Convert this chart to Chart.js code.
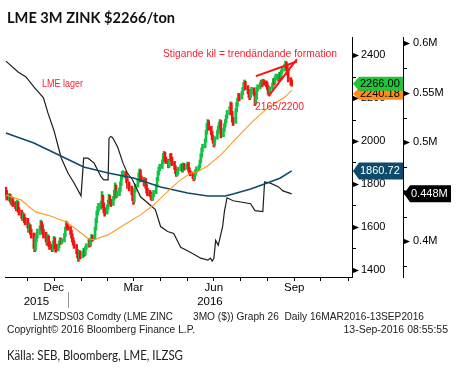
<!DOCTYPE html>
<html>
<head>
<meta charset="utf-8">
<script src="https://cdn.jsdelivr.net/npm/chart.js@4.4.1/dist/chart.umd.min.js"></script>
<style>
html, body { margin: 0; padding: 0; background: #fff; }
</style>
</head>
<body>
<canvas id="chart-zinc" width="457" height="370"></canvas>
<script>
// ----- DATA ----- //
// ---------------- //

// Daily candles, first trading day 22 Oct 2015 (open of first day given separately)
const startDate = '2015-10-22';
const firstOpen = 1775;
const closes = [
  1760,1735,
  1745,1730,1720,1725,1705,
  1700,1690,1712,1680,1665,
  1660,1645,1652,1630,1622,
  1610,1592,1602,1578,1565,
  1520,1498,1545,1560,1575,
  1592,1618,1600,1578,1560,
  1545,1528,1552,1520,1508,
  1498,1526,1548,1512,1494,
  1510,1526,1542,1530,1536,
  1562,1590,1618,1602,1596,
  1575,1560,1540,1528,1512,
  1488,1470,1455,1482,1465,
  1472,1492,1476,1502,1512,
  1532,1518,1542,1556,1548,
  1590,1628,1662,1682,1692,
  1705,1742,1702,1680,1668,
  1692,1716,1740,1720,1706,
  1732,1760,1790,1745,1756,
  1772,1800,1830,1845,1850,
  1840,1818,1790,1802,1780,
  1762,1735,1720,1770,1792,
  1812,1842,1862,1830,1822,
  1800,1820,1790,1770,1760,
  1755,1740,1730,1746,1762,
  1790,1820,1850,1872,1880,
  1902,1930,1942,1915,1910,
  1890,1902,1932,1920,1896,
  1880,1860,1845,1852,1870,
  1880,1886,1868,1890,1875,
  1882,1895,1870,1855,1850,
  1838,1825,1846,1860,1870,
  1880,1905,1930,1960,1975,
  2000,2040,2070,2092,2060,
  2040,2018,2000,1982,2012,
  2040,2060,2078,2092,2030,
  2050,2072,2090,2112,2130,
  2150,2172,2130,2100,2085,
  2140,2170,2190,2212,2200,
  2222,2240,2262,2272,2250,
  2230,2215,2205,2226,2240,
  2222,2178,2200,2240,2250,
  2262,2276,2265,2280,2270,
  2265,2250,2230,2220,2245,
  2262,2280,2275,2295,2300,
  2290,2310,2300,2322,2332,
  2348,2362,2350,2320,2290,
  2275,2266
];
const highs = [
  1785,1770,
  1755,1752,1740,1738,1732,
  1718,1712,1725,1718,1690,
  1678,1668,1665,1660,1645,
  1640,1620,1615,1610,1590,
  1572,1535,1552,1572,1590,
  1605,1632,1625,1610,1590,
  1575,1558,1565,1558,1532,
  1520,1535,1556,1550,1520,
  1520,1535,1550,1548,1545,
  1570,1598,1628,1622,1610,
  1602,1585,1568,1550,1535,
  1518,1495,1480,1490,1488,
  1485,1500,1498,1510,1522,
  1545,1540,1550,1565,1562,
  1600,1640,1675,1695,1710,
  1720,1765,1748,1712,1690,
  1702,1725,1752,1746,1728,
  1742,1772,1805,1795,1768,
  1782,1810,1840,1858,1862,
  1858,1845,1825,1812,1808,
  1790,1768,1742,1780,1800,
  1822,1852,1870,1865,1838,
  1830,1828,1825,1798,1780,
  1770,1762,1748,1755,1770,
  1798,1830,1860,1880,1892,
  1912,1942,1952,1948,1925,
  1915,1910,1940,1942,1925,
  1905,1885,1868,1860,1878,
  1890,1895,1892,1898,1895,
  1892,1902,1900,1875,1862,
  1856,1845,1852,1868,1880,
  1888,1912,1940,1968,1985,
  2010,2050,2082,2100,2095,
  2068,2045,2025,2008,2020,
  2050,2070,2088,2100,2095,
  2060,2080,2100,2120,2142,
  2160,2182,2178,2138,2110,
  2150,2180,2200,2222,2220,
  2232,2250,2272,2284,2278,
  2258,2240,2225,2235,2250,
  2248,2230,2210,2248,2262,
  2272,2284,2282,2288,2285,
  2280,2272,2258,2238,2252,
  2270,2290,2292,2302,2312,
  2310,2320,2318,2330,2342,
  2358,2372,2368,2355,2328,
  2295,2285
];
const lows = [
  1745,1725,
  1722,1715,1705,1700,1695,
  1685,1675,1680,1668,1655,
  1640,1630,1632,1620,1610,
  1595,1575,1580,1565,1548,
  1500,1485,1492,1530,1548,
  1565,1585,1585,1565,1548,
  1530,1515,1520,1508,1495,
  1485,1490,1518,1500,1482,
  1488,1502,1518,1520,1522,
  1530,1555,1582,1592,1585,
  1565,1548,1530,1515,1500,
  1475,1455,1440,1448,1452,
  1456,1462,1465,1470,1495,
  1505,1508,1512,1530,1535,
  1542,1585,1620,1655,1672,
  1682,1695,1690,1665,1650,
  1660,1682,1705,1710,1695,
  1700,1725,1752,1735,1738,
  1745,1765,1792,1822,1835,
  1828,1805,1780,1782,1768,
  1750,1722,1705,1715,1762,
  1785,1805,1835,1820,1810,
  1790,1795,1780,1758,1745,
  1742,1728,1722,1724,1740,
  1755,1785,1815,1842,1862,
  1872,1895,1920,1905,1895,
  1875,1880,1895,1908,1885,
  1868,1848,1835,1838,1845,
  1862,1872,1855,1862,1865,
  1868,1875,1858,1845,1838,
  1825,1815,1820,1840,1852,
  1862,1875,1898,1925,1952,
  1968,1995,2032,2060,2050,
  2028,2005,1990,1972,1978,
  2008,2035,2052,2070,2015,
  2020,2045,2065,2085,2105,
  2122,2140,2120,2088,2072,
  2082,2135,2162,2185,2188,
  2195,2215,2235,2250,2238,
  2220,2202,2192,2200,2218,
  2210,2165,2172,2195,2232,
  2242,2255,2252,2258,2260,
  2252,2240,2218,2210,2215,
  2240,2255,2262,2268,2285,
  2278,2285,2288,2295,2315,
  2325,2340,2335,2308,2275,
  2260,2255
];

// Moving averages (days counted from 1 Jan 2016)
const ma100Days = [-71,-54,-37,-19,-2,3,15,23,30,38,46,64,83,98,110,126,140,148,160,175,191,211,229,249,256];
const ma100 = [1749,1726,1670,1650,1623,1609,1572,1546,1540,1553,1563,1609,1656,1702,1749,1810,1850,1856,1885,1935,2005,2090,2155,2207,2237];
const ma200Days = [-71,-39,-8,18,46,75,106,137,160,180,189,209,228,243,256];
const ma200 = [2037,1991,1930,1879,1851,1828,1786,1758,1744,1744,1753,1777,1805,1828,1860.72];

// LME lager (million ton, right axis)
const stockDays = [-71,-57,-48,-39,-28,-23,-16,-10,-8,0,7,15,18,23,30,38,41,46,47,49,51,57,63,68,74,83,91,100,106,114,121,129,140,152,160,163,165,167,169,172,177,179,182,189,209,214,223,225,231,241,246,256];
const stocks = [0.582,0.571,0.566,0.556,0.545,0.530,0.512,0.492,0.485,0.469,0.459,0.446,0.484,0.484,0.479,0.465,0.462,0.462,0.504,0.506,0.505,0.495,0.479,0.469,0.462,0.445,0.439,0.432,0.415,0.410,0.408,0.394,0.389,0.383,0.381,0.383,0.380,0.383,0.401,0.396,0.415,0.430,0.444,0.441,0.438,0.431,0.430,0.460,0.459,0.455,0.451,0.448];

// Rising wedge (day, price)
const wedgeUpper = [[215, 2302], [262, 2370]];
const wedgeLower = [[229.5, 2209], [262, 2381]];

// Axes
const monthTicks = ['2015-11-01','2015-12-01','2016-01-01','2016-02-01','2016-03-01','2016-04-01','2016-05-01','2016-06-01','2016-07-01','2016-08-01','2016-09-01','2016-10-01','2016-11-01'];
const monthNames = ['', 'Dec', '', '', 'Mar', '', '', 'Jun', '', '', 'Sep', '', ''];
const years = ['2015', '2016'];
const priceTicks = [1400, 1600, 1800, 2000, 2200, 2400];
const stockTicks = [0.4, 0.45, 0.5, 0.55, 0.6];

// Last value tags
const lastPrice = 2266, lastPriceText = '2266.00';
const lastMa100Text = '2240.18';
const lastMa200 = 1860.72, lastMa200Text = '1860.72';
const lastStock = 0.448, lastStockText = '0.448M';


// ----- HELPERS ----- //
// ------------------- //

function dayOf(iso) {
  return (Date.parse(iso + 'T00:00:00Z') - Date.UTC(2016, 0, 1)) / 86400000;
}

function tradingDays(start, n) {
  const out = [];
  let t = Date.parse(start + 'T00:00:00Z');
  while (out.length < n) {
    const wd = new Date(t).getUTCDay();
    if (wd !== 0 && wd !== 6) out.push((t - Date.UTC(2016, 0, 1)) / 86400000);
    t += 86400000;
  }
  return out;
}

function put(ctx, txt, x, y, font, color, align, maxW) {
  ctx.font = font;
  ctx.fillStyle = color;
  ctx.textAlign = align || 'left';
  ctx.textBaseline = 'alphabetic';
  if (maxW) ctx.fillText(txt, x, y, maxW);
  else ctx.fillText(txt, x, y);
}

function tag(ctx, x0, yc, w, h, fill, color, txt) {
  ctx.beginPath();
  ctx.moveTo(x0, yc);
  ctx.lineTo(x0 + 6, yc - h / 2);
  ctx.lineTo(x0 + w, yc - h / 2);
  ctx.lineTo(x0 + w, yc + h / 2);
  ctx.lineTo(x0 + 6, yc + h / 2);
  ctx.closePath();
  ctx.fillStyle = fill;
  ctx.fill();
  ctx.font = '11px "Liberation Sans"';
  ctx.fillStyle = color;
  ctx.textAlign = 'left';
  ctx.textBaseline = 'middle';
  ctx.fillText(txt, x0 + 7, yc + 0.5);
}


// ----- BUILD SERIES ----- //
// ------------------------ //

const days = tradingDays(startDate, closes.length);
const candles = closes.map((c, i) => ({x: days[i], y: [lows[i], highs[i]]}));
const candleColors = closes.map((c, i) => c >= (i ? closes[i - 1] : firstOpen) ? '#12c244' : '#f21212');
const red = '#ff1a2a';


// ----- EXTRA DRAWING ----- //
// ------------------------- //

const extras = {
  id: 'extras',
  afterDraw(chart) {
    const ctx = chart.ctx;
    const sx = chart.scales.x, sy = chart.scales.y, sy2 = chart.scales.y2;
    const area = chart.chartArea;
    ctx.save();

    // Title
    put(ctx, 'LME 3M ZINK $2266/ton', 7, 23, 'bold 16px Lato', '#111', 'left', 168);

    // Annotations
    put(ctx, 'Stigande kil = trendändande formation', 163, 57, '10.5px "Liberation Sans"', red, 'left', 174);
    put(ctx, 'LME lager', 42, 87, '10.5px "Liberation Sans"', red, 'left', 41);
    put(ctx, '2165/2200', 255, 110, '10.5px "Liberation Sans"', red, 'left', 49);

    // Price axis ticks
    const ax = sy.left;
    ctx.fillStyle = '#000';
    ctx.strokeStyle = '#000';
    ctx.lineWidth = 1;
    for (let v = 1400; v <= 2400; v += 100) {
      const py = Math.round(sy.getPixelForValue(v)) + 0.5;
      if (v % 200 === 0) {
        ctx.beginPath();
        ctx.moveTo(ax, py - 3);
        ctx.lineTo(ax + 7, py);
        ctx.lineTo(ax, py + 3);
        ctx.closePath();
        ctx.fill();
      } else {
        ctx.beginPath();
        ctx.moveTo(ax, py);
        ctx.lineTo(ax + 4, py);
        ctx.stroke();
      }
    }
    // Stock axis ticks
    const bx = sy2.left;
    for (let k = 15; k <= 24; k++) {
      const v = k * 0.025;
      const py = Math.round(sy2.getPixelForValue(v)) + 0.5;
      if (k % 2 === 0) {
        ctx.beginPath();
        ctx.moveTo(bx, py - 3);
        ctx.lineTo(bx + 7, py);
        ctx.lineTo(bx, py + 3);
        ctx.closePath();
        ctx.fill();
      } else {
        ctx.beginPath();
        ctx.moveTo(bx, py);
        ctx.lineTo(bx + 4, py);
        ctx.stroke();
      }
    }

    // Year labels and separator
    const yearStart = [dayOf('2015-01-01'), dayOf('2016-01-01'), dayOf('2017-01-01')];
    years.forEach((yr, i) => {
      const l = Math.max(area.left, sx.getPixelForValue(yearStart[i]));
      const r = Math.min(area.right, sx.getPixelForValue(yearStart[i + 1]));
      put(ctx, yr, (l + r) / 2, 305, '11.5px "Liberation Sans"', '#000', 'center');
    });
    const jx = Math.round(sx.getPixelForValue(dayOf('2016-01-01'))) + 0.5;
    ctx.strokeStyle = '#999';
    ctx.beginPath();
    ctx.moveTo(jx, 292);
    ctx.lineTo(jx, 308);
    ctx.stroke();

    // Last value tags
    const gy = sy.getPixelForValue(lastPrice);
    tag(ctx, 353, gy + 10, 50, 12, '#ff8c1a', '#000', lastMa100Text);
    tag(ctx, 353, gy, 50, 14, '#22c43c', '#000', lastPriceText);
    tag(ctx, 353, sy.getPixelForValue(lastMa200), 50, 17, '#0e4a6a', '#fff', lastMa200Text);
    tag(ctx, 404, sy2.getPixelForValue(lastStock), 47, 17, '#000', '#fff', lastStockText);

    // Footer
    const foot = '10.5px "Liberation Sans"';
    put(ctx, 'LMZSDS03 Comdty (LME ZINC', 33, 320, foot, '#222', 'left', 140);
    put(ctx, '3MO ($)) Graph 26  Daily 16MAR2016-13SEP2016', 193, 320, foot, '#222', 'left', 231);
    put(ctx, 'Copyright\u00a9 2016 Bloomberg Finance L.P.', 7, 333, foot, '#222', 'left', 188);
    put(ctx, '13-Sep-2016 08:55:55', 448, 333, foot, '#222', 'right', 105);
    put(ctx, 'Källa: SEB, Bloomberg, LME, ILZSG', 7, 360, '13px Lato', '#222', 'left', 176);

    ctx.restore();
  }
};


// ----- CREATE CHART ----- //
// ------------------------ //

Chart.defaults.font.family = '"Liberation Sans"';
Chart.defaults.color = '#000';

new Chart(document.getElementById('chart-zinc').getContext('2d'), {
  type: 'bar',
  data: {
    datasets: [
      {
        type: 'bar',
        data: candles,
        backgroundColor: candleColors,
        barThickness: 2,
        grouped: false,
        yAxisID: 'y',
        order: 4
      },
      {
        type: 'line',
        data: ma100Days.map((d, i) => ({x: d, y: ma100[i]})),
        borderColor: '#ff9a22',
        borderWidth: 1.1,
        pointRadius: 0,
        tension: 0,
        yAxisID: 'y',
        order: 2
      },
      {
        type: 'line',
        data: ma200Days.map((d, i) => ({x: d, y: ma200[i]})),
        borderColor: '#0e4a6a',
        borderWidth: 1.6,
        pointRadius: 0,
        tension: 0,
        yAxisID: 'y',
        order: 2
      },
      {
        type: 'line',
        data: stockDays.map((d, i) => ({x: d, y: stocks[i]})),
        borderColor: '#1e1e1e',
        borderWidth: 1.2,
        pointRadius: 0,
        tension: 0,
        yAxisID: 'y2',
        order: 3
      },
      {
        type: 'line',
        data: wedgeUpper.map(p => ({x: p[0], y: p[1]})),
        borderColor: '#ff1010',
        borderWidth: 2,
        pointRadius: 0,
        yAxisID: 'y',
        order: 1
      },
      {
        type: 'line',
        data: wedgeLower.map(p => ({x: p[0], y: p[1]})),
        borderColor: '#ff1010',
        borderWidth: 2,
        pointRadius: 0,
        yAxisID: 'y',
        order: 1
      }
    ]
  },
  options: {
    responsive: false,
    animation: false,
    layout: { padding: { left: 5, top: 37, right: 0, bottom: 73 } },
    plugins: { legend: { display: false }, tooltip: { enabled: false } },
    scales: {
      x: {
        type: 'linear',
        position: 'bottom',
        min: -72,
        max: 325,
        offset: false,
        afterBuildTicks: s => { s.ticks = monthTicks.map(m => ({value: dayOf(m)})); },
        afterFit: s => { s.height = 20; },
        grid: { drawOnChartArea: false, drawTicks: true, tickLength: 4, color: '#000' },
        border: { display: true, color: '#000' },
        ticks: {
          autoSkip: false, maxRotation: 0, labelOffset: 13, padding: 0,
          font: { size: 11.5 },
          callback: (v, i) => monthNames[i]
        }
      },
      y: {
        type: 'linear',
        position: 'right',
        min: 1367,
        max: 2484,
        afterBuildTicks: s => { s.ticks = priceTicks.map(v => ({value: v})); },
        afterFit: s => { s.width = 51; },
        grid: { drawOnChartArea: false, drawTicks: false },
        border: { display: true, color: '#000' },
        ticks: { padding: 9, font: { size: 11 }, callback: v => String(v) }
      },
      y2: {
        type: 'linear',
        position: 'right',
        min: 0.364,
        max: 0.6064,
        afterBuildTicks: s => { s.ticks = stockTicks.map(v => ({value: v})); },
        afterFit: s => { s.width = 54; },
        grid: { drawOnChartArea: false, drawTicks: false },
        border: { display: true, color: '#000' },
        ticks: { padding: 10, font: { size: 11 }, callback: v => v + 'M' }
      }
    }
  },
  plugins: [extras]
});
</script>
</body>
</html>
